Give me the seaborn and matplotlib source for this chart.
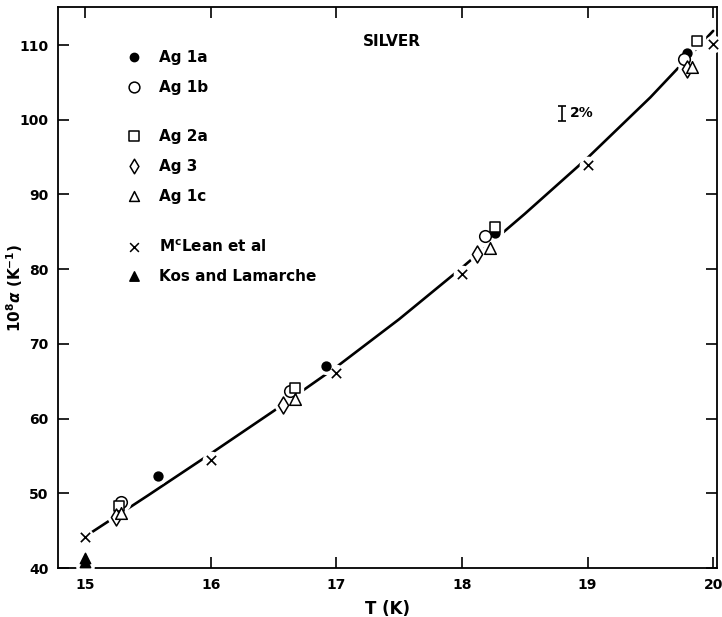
import matplotlib
matplotlib.use("Agg")
import matplotlib.pyplot as plt
import seaborn as sns
import pandas as pd

# Thermal expansion of silver: 10^8 alpha (K^-1) versus T (K)
ag1a_T = [15.58, 16.92, 18.26, 19.79]
ag1a_a = [52.3, 67.1, 84.8, 109.0]

ag1b_T = [15.29, 16.63, 18.18, 19.77]
ag1b_a = [48.9, 63.7, 84.4, 108.2]

ag2a_T = [15.27, 16.67, 18.26, 19.87]
ag2a_a = [48.3, 64.1, 85.6, 110.5]

ag3_T = [15.25, 16.58, 18.12, 19.79]
ag3_a = [46.8, 61.8, 82.0, 106.8]

ag1c_T = [15.29, 16.67, 18.22, 19.83]
ag1c_a = [47.4, 62.6, 82.8, 107.0]

mclean_T = [15.0, 16.0, 17.0, 18.0, 19.0, 20.0]
mclean_a = [44.1, 54.5, 66.1, 79.4, 94.0, 110.1]

kos_T = [15.0, 15.0]
kos_a = [40.8, 41.4]

# smooth curve drawn through the data
curve_T = [15.0, 15.5, 16.0, 16.5, 17.0, 17.5, 18.0, 18.5, 19.0, 19.5, 20.0]
curve_a = [44.2, 49.7, 55.3, 61.0, 66.9, 73.3, 80.2, 87.4, 94.9, 103.0, 111.9]

x_ticks = [15, 16, 17, 18, 19, 20]
y_ticks = [40, 50, 60, 70, 80, 90, 100, 110]

sns.set_theme(style="ticks")
plt.rcParams["font.family"] = ["DejaVu Sans"]
plt.rcParams["font.weight"] = "bold"
plt.rcParams["text.color"] = "black"
plt.rcParams["axes.labelcolor"] = "black"
plt.rcParams["xtick.color"] = "black"
plt.rcParams["ytick.color"] = "black"

fig = plt.figure(figsize=(7.22, 6.17), dpi=100)
ax = fig.add_axes([0.0803, 0.0794, 0.9127, 0.9093])

curve = pd.DataFrame({"T": curve_T, "a": curve_a})
sns.lineplot(data=curve, x="T", y="a", ax=ax, color="black", lw=1.9,
             zorder=2, legend=False)

series = [
    (ag1a_T, ag1a_a, "o", "black", 40),
    (ag1b_T, ag1b_a, "o", "white", 70),
    (ag2a_T, ag2a_a, "s", "white", 60),
    (ag3_T, ag3_a, "d", "white", 75),
    (ag1c_T, ag1c_a, "^", "white", 70),
    (mclean_T, mclean_a, "x", "black", 45),
    (kos_T, kos_a, "^", "black", 55),
]

# white halos break the curve around the symbols
for T, a, m, fc, s in series:
    df = pd.DataFrame({"T": T, "a": a})
    sns.scatterplot(data=df, x="T", y="a", ax=ax,
                    marker=m if m != "x" else "o",
                    s=s, color="white", edgecolor="white", linewidth=6,
                    zorder=3, legend=False, clip_on=False)

for T, a, m, fc, s in series:
    df = pd.DataFrame({"T": T, "a": a})
    if m == "x":
        sns.scatterplot(data=df, x="T", y="a", ax=ax, marker="x", s=s,
                        color="black", linewidth=1.2, zorder=4, legend=False,
                        clip_on=False)
    else:
        sns.scatterplot(data=df, x="T", y="a", ax=ax, marker=m, s=s,
                        facecolor=fc, edgecolor="black", linewidth=1.1,
                        zorder=4, legend=False, clip_on=False)

ax.set_xlim(14.785, 20.03)
ax.set_ylim(40, 115.1)
ax.set_xticks(x_ticks)
ax.set_yticks(y_ticks)
ax.tick_params(direction="in", top=True, right=True, length=8, width=1.2,
               labelsize=10, pad=7)
for lab in ax.get_xticklabels() + ax.get_yticklabels():
    lab.set_fontweight("bold")
for sp in ax.spines.values():
    sp.set_linewidth(1.3)
    sp.set_color("black")

ax.set_xlabel("T (K)", fontsize=12, fontweight="bold", labelpad=6)
ax.set_ylabel(r"10$^{8}\alpha$ (K$^{-1}$)", fontsize=11, fontweight="bold")
ax.yaxis.set_label_coords(-0.050, 0.5)

# legend drawn by hand, grouped as in the key
legend_rows = [
    (0.9107, "o", "black", 35, "Ag 1a"),
    (0.857, "o", "white", 60, "Ag 1b"),
    (0.7696, "s", "white", 45, "Ag 2a"),
    (0.716, "d", "white", 55, "Ag 3"),
    (0.6625, "^", "white", 50, "Ag 1c"),
    (0.573, "x", "black", 40, r"M$^{\mathbf{c}}$Lean et al"),
    (0.5196, "^", "black", 45, "Kos and Lamarche"),
]
for yf, m, fc, s, label in legend_rows:
    if m == "x":
        ax.scatter([0.1153], [yf], marker="x", s=s, color="black",
                   linewidths=1.1, transform=ax.transAxes, zorder=5)
    else:
        ax.scatter([0.1153], [yf], marker=m, s=s, facecolor=fc,
                   edgecolor="black", linewidths=1.1,
                   transform=ax.transAxes, zorder=5)
    ax.text(0.1533, yf, label, transform=ax.transAxes, fontsize=11,
            fontweight="bold", va="center", ha="left")

ax.text(0.507, 0.939, "SILVER", transform=ax.transAxes, fontsize=11,
        fontweight="bold", va="center", ha="center")

# 2 % error bar
err_T = 18.8
err_a = 100.9
ax.errorbar([err_T], [err_a], yerr=[[1.0], [1.0]], fmt="none", ecolor="black",
            elinewidth=1.2, capsize=3, capthick=1.2, zorder=5)
ax.text(err_T + 0.06, err_a, "2%", fontsize=10, fontweight="bold",
        va="center", ha="left")

fig.savefig("out.png", dpi=100)
